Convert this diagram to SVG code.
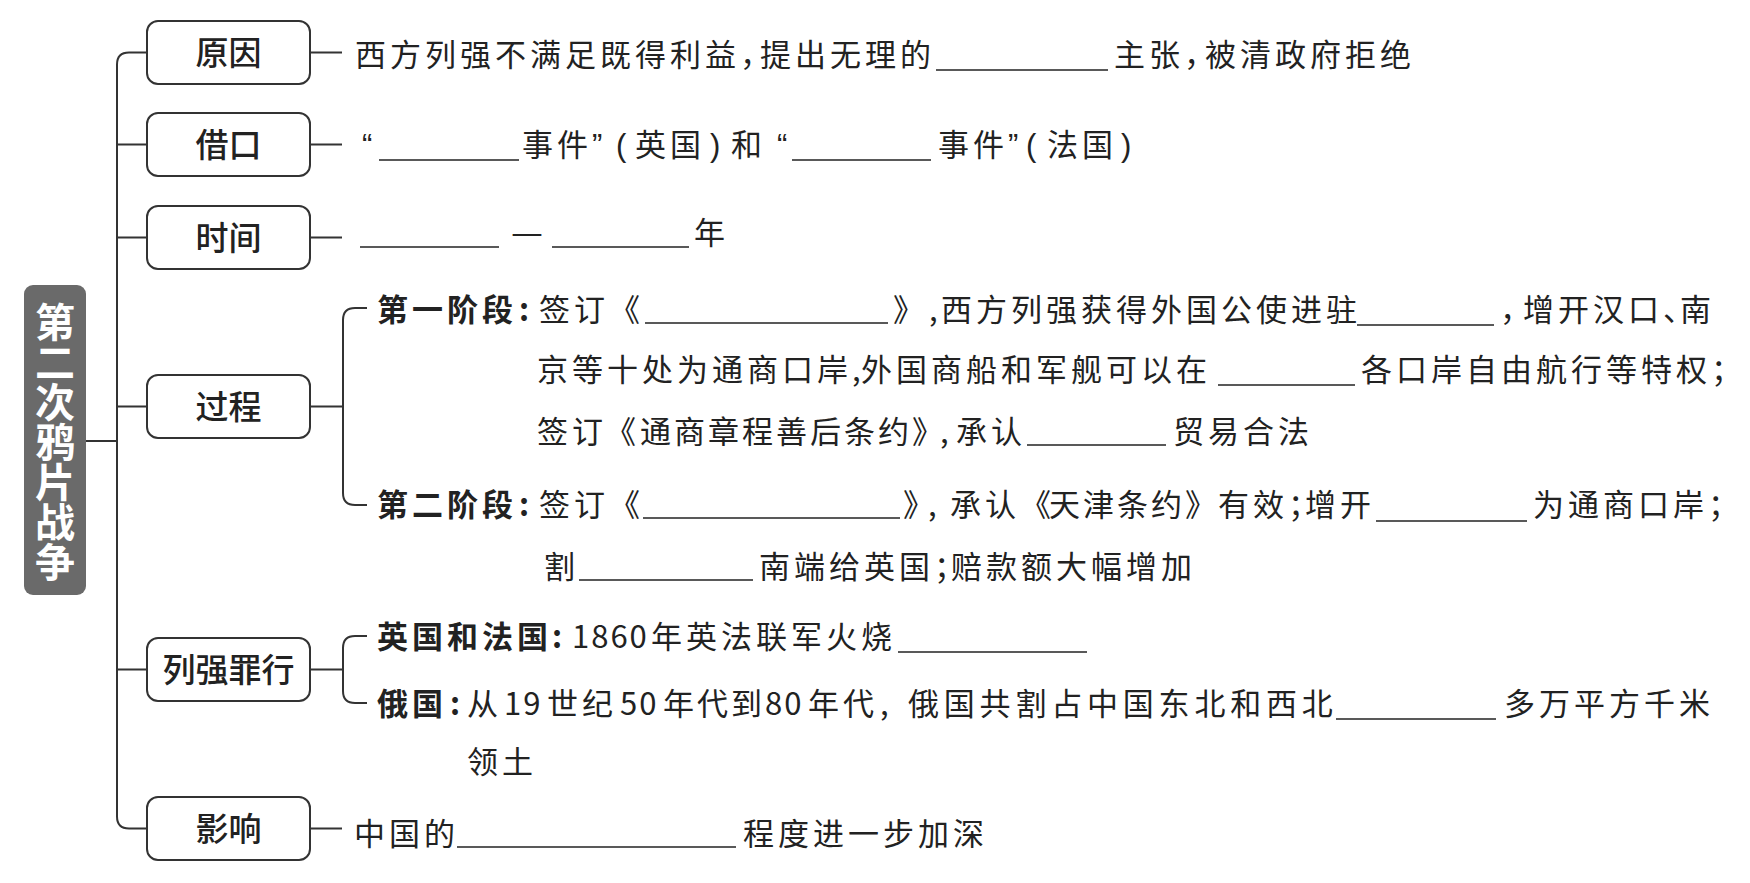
<svg xmlns="http://www.w3.org/2000/svg" width="1750" height="883" viewBox="0 0 1750 883">
<style>
.t{font-family:"Noto Sans CJK SC","Noto Sans",sans-serif;font-size:31px;fill:#222;letter-spacing:4px}
.b{font-weight:700}
.d{letter-spacing:2px}
.q{font-family:"Liberation Sans",sans-serif;letter-spacing:0}
.sq{letter-spacing:-12px}
.lbl{font-family:"Noto Sans CJK SC","Noto Sans",sans-serif;font-size:33px;font-weight:500;fill:#222;text-anchor:middle}
.ttl{font-family:"Noto Sans CJK SC","Noto Sans",sans-serif;font-size:40px;font-weight:700;fill:#fff;writing-mode:vertical-rl;text-anchor:start}
.box{fill:#fff;stroke:#333;stroke-width:2}
.ln{fill:none;stroke:#333;stroke-width:2}
.bl{stroke:#222;stroke-width:1.6}
</style>
<rect width="1750" height="883" fill="#fff"/>
<g id="connectors">
<path class="ln" d="M147,52.5 H129 Q117,52.5 117,64.5 V816.5 Q117,828.5 129,828.5 H147"/>
<path class="ln" d="M86,441 H117"/>
<path class="ln" d="M117,144.5 H147 M117,237.5 H147 M117,406.5 H147 M117,669.5 H147"/>
<path class="ln" d="M310,52.5 H342 M310,144.5 H342 M310,237.5 H342 M310,828.5 H342"/>
<path class="ln" d="M310,406.5 H343 M367,308 H355 Q343,308 343,320 V493 Q343,505 355,505 H367"/>
<path class="ln" d="M310,669.5 H343 M367,636 H355 Q343,636 343,648 V691 Q343,703 355,703 H367"/>
</g>
<g id="title">
<rect x="24" y="285" width="62" height="310" rx="9" fill="#6a6a6a"/>
<text class="ttl" x="55" y="302" writing-mode="tb">第二次鸦片战争</text>
</g>
<g id="node-yuanyin">
<rect class="box" x="147" y="21" width="163" height="63" rx="11"/>
<text class="lbl" x="228.5" y="65">原因</text>
<text class="t" y="66"><tspan x="355">西方列强不满足既得利益</tspan><tspan x="740" style="letter-spacing:-11px">，</tspan><tspan x="760">提出无理的</tspan><tspan x="1114">主张</tspan><tspan x="1184" style="letter-spacing:-10px">，</tspan><tspan x="1205">被清政府拒绝</tspan></text>
<line class="bl" x1="936" y1="70" x2="1108" y2="70"/>
</g>
<g id="node-jiekou">
<rect class="box" x="147" y="113" width="163" height="63" rx="11"/>
<text class="lbl" x="228.5" y="157">借口</text>
<text class="t" y="156"><tspan class="q" x="362">“</tspan><tspan x="522">事件</tspan><tspan class="q" x="592">”</tspan><tspan class="q" x="616">(</tspan><tspan x="635">英国</tspan><tspan class="q" x="710">)</tspan><tspan x="731">和</tspan><tspan class="q" x="777">“</tspan><tspan x="938">事件</tspan><tspan class="q" x="1008">”</tspan><tspan class="q" x="1026">(</tspan><tspan x="1047">法国</tspan><tspan class="q" x="1121">)</tspan></text>
<line class="bl" x1="379" y1="160" x2="519" y2="160"/>
<line class="bl" x1="792" y1="160" x2="931" y2="160"/>
</g>
<g id="node-shijian">
<rect class="box" x="147" y="206" width="163" height="63" rx="11"/>
<text class="lbl" x="228.5" y="250">时间</text>
<text class="t" x="511" y="244" textLength="32" lengthAdjust="spacingAndGlyphs" style="letter-spacing:0">—</text>
<text class="t" x="694" y="244">年</text>
<line class="bl" x1="360" y1="247" x2="499" y2="247"/>
<line class="bl" x1="552" y1="247" x2="689" y2="247"/>
</g>
<g id="node-guocheng">
<rect class="box" x="147" y="375" width="163" height="63" rx="11"/>
<text class="lbl" x="228.5" y="419">过程</text>
<text class="t" y="321"><tspan class="b" x="377">第一阶段</tspan><tspan class="b" x="519">:</tspan><tspan x="539">签订《</tspan><tspan class="sq" x="893">》</tspan><tspan x="929">,</tspan><tspan x="941">西方列强获得外国公使进驻</tspan><tspan class="sq" x="1500">，</tspan><tspan x="1523">增开汉口</tspan><tspan x="1663" style="letter-spacing:-14px">、</tspan><tspan x="1680">南</tspan></text>
<line class="bl" x1="645" y1="323" x2="888" y2="323"/>
<line class="bl" x1="1357" y1="325" x2="1494" y2="325"/>
<text class="t" y="381"><tspan x="537">京等十处为通商口岸</tspan><tspan x="852" style="letter-spacing:0">,</tspan><tspan x="861">外国商船和军舰可以在</tspan><tspan x="1361">各口岸自由航行等特权；</tspan></text>
<line class="bl" x1="1218" y1="385" x2="1355" y2="385"/>
<text class="t" y="443"><tspan x="537">签订</tspan><tspan x="605">《</tspan><tspan x="640" style="letter-spacing:3px">通商章程善后条约</tspan><tspan class="sq" x="912">》</tspan><tspan x="940">,</tspan><tspan x="956">承认</tspan><tspan x="1173">贸易合法</tspan></text>
<line class="bl" x1="1027" y1="445" x2="1166" y2="445"/>
<text class="t" y="516"><tspan class="b" x="377">第二阶段</tspan><tspan class="b" x="519">:</tspan><tspan x="539">签订《</tspan><tspan class="sq" x="903">》</tspan><tspan x="928">,</tspan><tspan x="950">承认</tspan><tspan x="1020" style="letter-spacing:-2px">《</tspan><tspan x="1049" style="letter-spacing:3px">天津条约</tspan><tspan x="1185" style="letter-spacing:-2px">》</tspan><tspan x="1218">有效</tspan><tspan x="1288" style="letter-spacing:-14px">；</tspan><tspan x="1305">增开</tspan><tspan x="1533">为通商口岸；</tspan></text>
<line class="bl" x1="643" y1="518" x2="900" y2="518"/>
<line class="bl" x1="1376" y1="521" x2="1527" y2="521"/>
<text class="t" y="578"><tspan x="544">割</tspan><tspan x="759">南端给英国</tspan><tspan x="934" style="letter-spacing:-14px">；</tspan><tspan x="951">赔款额大幅增加</tspan></text>
<line class="bl" x1="579" y1="580" x2="753" y2="580"/>
</g>
<g id="node-lieqiang">
<rect class="box" x="147" y="638" width="163" height="63" rx="11"/>
<text class="lbl" x="228.5" y="682">列强罪行</text>
<text class="t" y="648"><tspan class="b" x="377">英国和法国</tspan><tspan class="b" x="552">:</tspan><tspan class="d" x="572">1860</tspan><tspan x="651">年英法联军火烧</tspan></text>
<line class="bl" x1="898" y1="652" x2="1087" y2="652"/>
<text class="t" y="715"><tspan class="b" x="377">俄国</tspan><tspan class="b" x="450">:</tspan><tspan x="467">从</tspan><tspan class="d" x="504">19</tspan><tspan x="547">世纪</tspan><tspan class="d" x="620">50</tspan><tspan x="663" style="letter-spacing:3px">年代到</tspan><tspan class="d" x="765">80</tspan><tspan x="808">年代</tspan><tspan x="880">,</tspan><tspan x="908" style="letter-spacing:4.8px">俄国共割占中国东北和西北</tspan><tspan x="1504">多万平方千米</tspan></text>
<line class="bl" x1="1336" y1="719" x2="1496" y2="719"/>
<text class="t" x="467" y="773">领土</text>
</g>
<g id="node-yingxiang">
<rect class="box" x="147" y="797" width="163" height="63" rx="11"/>
<text class="lbl" x="228.5" y="841">影响</text>
<text class="t" y="845"><tspan x="354">中国的</tspan><tspan x="743">程度进一步加深</tspan></text>
<line class="bl" x1="457" y1="847" x2="736" y2="847"/>
</g>
</svg>
